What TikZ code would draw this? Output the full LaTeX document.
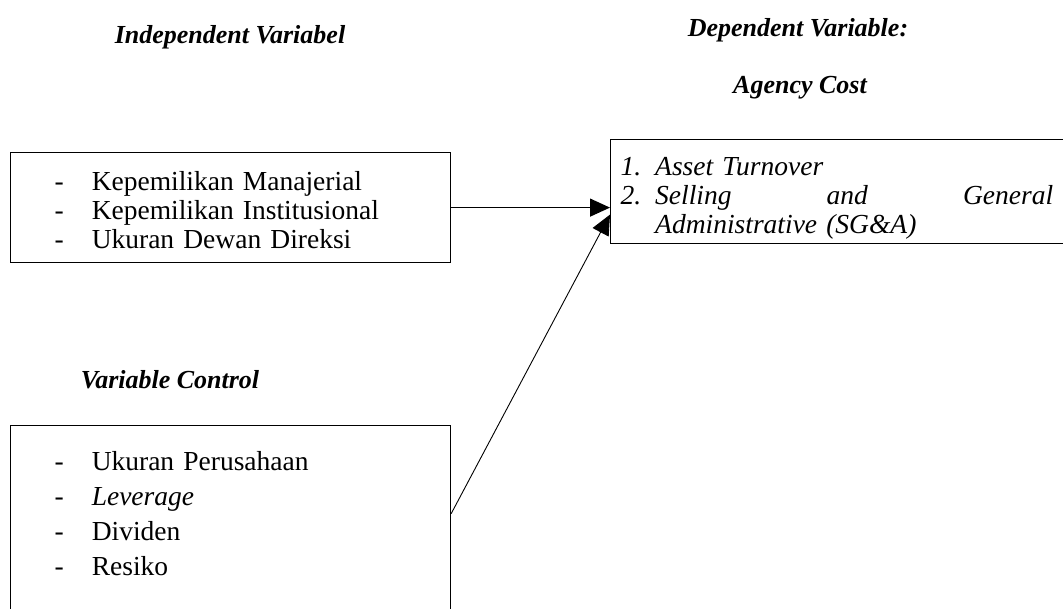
\documentclass[tikz,border=0pt]{standalone}
\usepackage{fontspec}
\setmainfont{Liberation Serif}
\usetikzlibrary{arrows.meta}

\tikzset{
	headtext/.style={font=\fontsize{26}{30}\selectfont\bfseries\itshape},
	varbox/.style={draw, line width=1.2pt, anchor=north west, inner xsep=0pt, inner ysep=0pt, align=left, font=\fontsize{27.5}{29}\selectfont},
	link/.style={line width=1.2pt, -{Triangle[length=20pt,width=18pt]}}
}

\begin{document}
\begin{tikzpicture}[x=1pt,y=-1pt]
	\useasboundingbox (0,0) rectangle (1063,608);

	\node[headtext] (indep) at (230,37) {Independent Variabel};
	\node[headtext] (dep) at (798,30) {Dependent Variable:};
	\node[headtext] (cost) at (800,88) {Agency Cost};
	\node[headtext] (ctrl) at (170,380) {Variable Control};

	\node[varbox, text width=440pt, minimum height=110pt] (indbox) at (10,152) {%
		\begin{tabular}{@{\hspace{44pt}}l@{\hspace{28pt}}l@{}}
			\rule{0pt}{32pt}- & Kepemilikan Manajerial\\
			- & Kepemilikan Institusional\\
			- & Ukuran Dewan Direksi
		\end{tabular}};

	\node[varbox, text width=470pt, minimum height=104pt] (depbox) at (610,139) {%
		\itshape
		\begin{tabular}{@{\hspace{10pt}}l@{\hspace{14pt}}l@{}}
			\rule{0pt}{34pt}1. & Asset Turnover\\
			2. & \makebox[398pt][s]{Selling\hfill and\hfill General}\\
			   & Administrative (SG\&A)
		\end{tabular}};

	\node[varbox, text width=440pt, minimum height=200pt, font=\fontsize{27.5}{35}\selectfont] (ctrlbox) at (10,425) {%
		\begin{tabular}{@{\hspace{44pt}}l@{\hspace{28pt}}l@{}}
			- & Ukuran Perusahaan\\
			- & \textit{Leverage}\\
			- & Dividen\\
			- & Resiko\\[20pt]
		\end{tabular}};

	\draw[link] (indbox.east) -- (indbox.east -| depbox.west);
	\draw[link, line width=0.9pt] ([yshift=12pt]ctrlbox.east) -- ([yshift=-7pt]indbox.east -| depbox.west);

\end{tikzpicture}
\end{document}
